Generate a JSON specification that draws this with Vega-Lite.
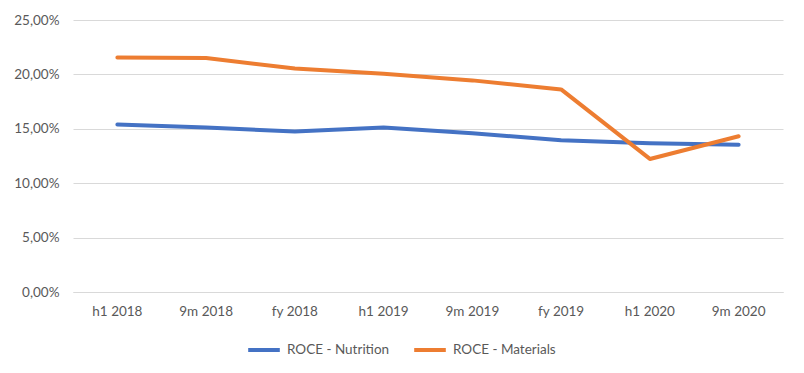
{
  "$schema": "https://vega.github.io/schema/vega-lite/v6.json",
  "autosize": {"type": "none"},
  "width": 710,
  "height": 272,
  "padding": {"left": 73, "top": 20, "right": 21, "bottom": 81},
  "background": "white",
  "data": {
    "values": [
      {"period": "h1 2018", "series": "ROCE - Nutrition", "value": 0.1539},
      {"period": "9m 2018", "series": "ROCE - Nutrition", "value": 0.1512},
      {"period": "fy 2018", "series": "ROCE - Nutrition", "value": 0.1475},
      {"period": "h1 2019", "series": "ROCE - Nutrition", "value": 0.1512},
      {"period": "9m 2019", "series": "ROCE - Nutrition", "value": 0.1460},
      {"period": "fy 2019", "series": "ROCE - Nutrition", "value": 0.1395},
      {"period": "h1 2020", "series": "ROCE - Nutrition", "value": 0.1368},
      {"period": "9m 2020", "series": "ROCE - Nutrition", "value": 0.1353},
      {"period": "h1 2018", "series": "ROCE - Materials", "value": 0.2156},
      {"period": "9m 2018", "series": "ROCE - Materials", "value": 0.2150},
      {"period": "fy 2018", "series": "ROCE - Materials", "value": 0.2055},
      {"period": "h1 2019", "series": "ROCE - Materials", "value": 0.2005},
      {"period": "9m 2019", "series": "ROCE - Materials", "value": 0.1945},
      {"period": "fy 2019", "series": "ROCE - Materials", "value": 0.1862},
      {"period": "h1 2020", "series": "ROCE - Materials", "value": 0.1223},
      {"period": "9m 2020", "series": "ROCE - Materials", "value": 0.1432}
    ]
  },
  "mark": {"type": "line", "strokeWidth": 4, "strokeCap": "round", "strokeJoin": "round"},
  "encoding": {
    "x": {
      "field": "period",
      "type": "nominal",
      "sort": null,
      "scale": {"type": "band", "paddingInner": 0, "paddingOuter": 0},
      "axis": {
        "title": null,
        "labelAngle": 0,
        "ticks": false,
        "domain": true,
        "domainColor": "#D9D9D9",
        "grid": false,
        "labelPadding": 12,
        "labelFont": "Lato",
        "labelFontSize": 13.5,
        "labelColor": "#595959"
      }
    },
    "y": {
      "field": "value",
      "type": "quantitative",
      "scale": {"domain": [0, 0.25], "nice": false},
      "axis": {
        "title": null,
        "values": [0, 0.05, 0.1, 0.15, 0.2, 0.25],
        "labelExpr": "replace(format(datum.value * 100, '.2f'), '.', ',') + '%'",
        "ticks": false,
        "domain": false,
        "gridColor": "#D9D9D9",
        "gridWidth": 1,
        "labelPadding": 14,
        "labelFont": "Lato",
        "labelFontSize": 13.5,
        "labelColor": "#595959"
      }
    },
    "color": {
      "field": "series",
      "type": "nominal",
      "sort": ["ROCE - Nutrition", "ROCE - Materials"],
      "scale": {"domain": ["ROCE - Nutrition", "ROCE - Materials"], "range": ["#4472C4", "#ED7D31"]},
      "legend": {
        "title": null,
        "orient": "none",
        "direction": "horizontal",
        "legendX": 173,
        "legendY": 312,
        "symbolType": "stroke",
        "symbolSize": 1000,
        "symbolStrokeWidth": 4,
        "labelOffset": 5,
        "columnPadding": 16,
        "labelFont": "Lato",
        "labelFontSize": 13.5,
        "labelColor": "#595959"
      }
    }
  },
  "config": {"view": {"stroke": null}}
}
